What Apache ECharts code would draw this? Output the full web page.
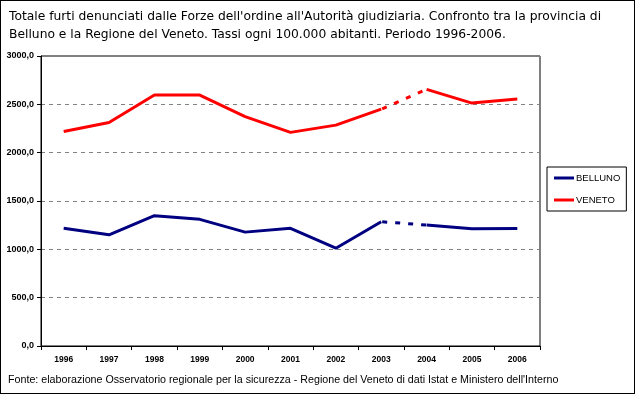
<!DOCTYPE html>
<html>
<head>
<meta charset="utf-8">
<script src="https://cdn.jsdelivr.net/npm/echarts@6/dist/echarts.min.js"></script>
<style>
html,body{margin:0;padding:0;background:#fff;}
#frame{position:absolute;left:0;top:0;width:635px;height:394px;box-sizing:border-box;border:1px solid #000;}
#chart{position:absolute;left:0;top:0;width:635px;height:394px;}
</style>
</head>
<body>
<div id="chart"></div>
<div id="frame"></div>
<script>
const titleText = "Totale furti denunciati dalle Forze dell'ordine all'Autorità giudiziaria. Confronto tra la provincia di\nBelluno e la Regione del Veneto. Tassi ogni 100.000 abitanti. Periodo 1996-2006.";
const sourceText = "Fonte: elaborazione Osservatorio regionale per la sicurezza - Regione del Veneto di dati Istat e Ministero dell'Interno";
const years = ["1996","1997","1998","1999","2000","2001","2002","2003","2004","2005","2006"];
const belluno = [1217, 1150, 1348, 1310, 1178, 1217, 1012, 1286, 1251, 1213, 1215];
const veneto = [2218, 2313, 2596, 2596, 2372, 2210, 2285, 2450, 2655, 2513, 2554];
const breakIndex = 7; // segment 2003-2004 drawn dashed
const seriesNames = ["BELLUNO", "VENETO"];
const seriesColors = ["#000080", "#FF0000"];

function segments(name, values, color) {
  const before = values.map((v, i) => i <= breakIndex ? v : null);
  const mid = values.map((v, i) => (i === breakIndex || i === breakIndex + 1) ? v : null);
  const after = values.map((v, i) => i >= breakIndex + 1 ? v : null);
  const base = {name: name, type: 'line', showSymbol: false, symbol: 'none', connectNulls: false,
    itemStyle: {color: color}, emphasis: {disabled: true}, animation: false};
  return [
    Object.assign({}, base, {data: before, lineStyle: {color: color, width: 3}}),
    Object.assign({}, base, {data: mid, lineStyle: {color: color, width: 3, type: [5, 8], dashOffset: -14}}),
    Object.assign({}, base, {data: after, lineStyle: {color: color, width: 3}})
  ];
}

const chart = echarts.init(document.getElementById('chart'));
chart.setOption({
  backgroundColor: '#fff',
  animation: false,
  title: {
    text: titleText, left: 9, top: 8, padding: 0,
    textStyle: {fontFamily: 'DejaVu Sans', fontSize: 12.3, fontWeight: 'normal', color: '#000', lineHeight: 18}
  },
  graphic: [{
    type: 'text', left: 8, top: 375,
    style: {text: sourceText, fontFamily: 'Liberation Sans', fontSize: 10.7, fill: '#000'}
  }],
  legend: {
    orient: 'vertical', left: 547, top: 167, width: 79,
    data: seriesNames,
    icon: 'rect', itemWidth: 20, itemHeight: 3, itemGap: 12,
    padding: [6, 6, 6, 7],
    borderColor: '#000', borderWidth: 1,
    textStyle: {fontFamily: 'Liberation Sans', fontSize: 9.5, color: '#000', padding: [0, 0, 0, -3]}
  },
  grid: {left: 41, right: 95, top: 56, bottom: 48, show: true, borderColor: '#000', borderWidth: 1, containLabel: false},
  xAxis: {
    type: 'category', data: years, boundaryGap: true,
    axisLine: {lineStyle: {color: '#000', width: 1}},
    axisTick: {show: true, alignWithLabel: false, length: 4, inside: false, lineStyle: {color: '#000'}},
    axisLabel: {fontFamily: 'Liberation Sans', fontSize: 8.5, fontWeight: 'bold', color: '#000', margin: 9}
  },
  yAxis: {
    type: 'value', min: 0, max: 3000, interval: 500,
    axisLine: {show: true, lineStyle: {color: '#000', width: 1}},
    axisTick: {show: true, length: 4, lineStyle: {color: '#000'}},
    axisLabel: {fontFamily: 'Liberation Sans', fontSize: 9, fontWeight: 'bold', color: '#000', margin: 7,
      formatter: v => v.toFixed(1).replace('.', ',')},
    splitLine: {show: true, lineStyle: {color: '#808080', type: [4, 4], width: 1}}
  },
  series: [].concat(segments(seriesNames[0], belluno, seriesColors[0]), segments(seriesNames[1], veneto, seriesColors[1]))
});
</script>
</body>
</html>
